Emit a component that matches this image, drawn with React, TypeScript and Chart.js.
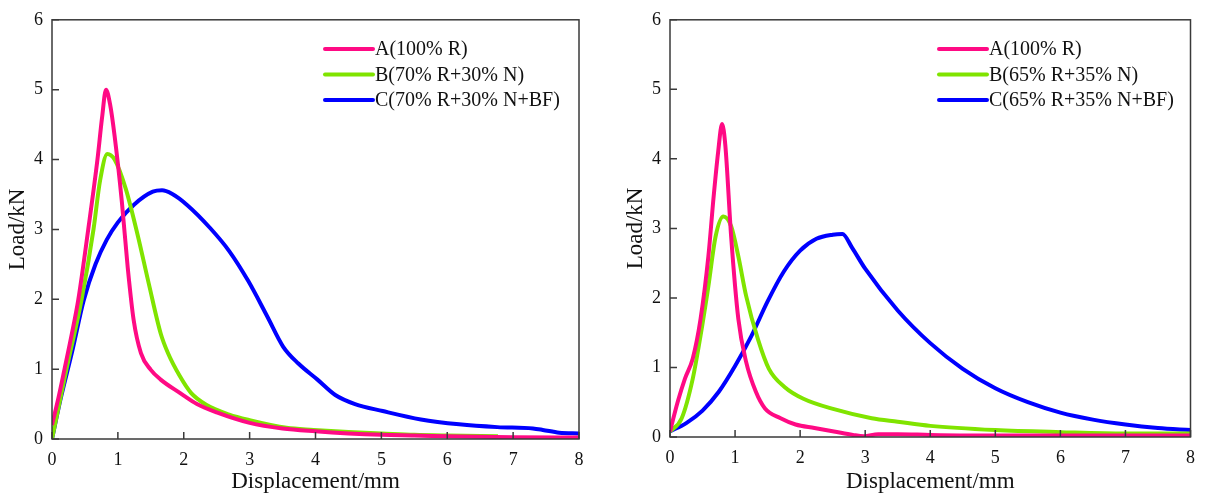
import { useEffect, useRef } from 'react';
import { Chart, registerables } from 'chart.js';

Chart.register(...registerables);

// ---- left panel: 70% R + 30% N ----
const leftAX = [0, 0.1, 0.19, 0.3, 0.4, 0.55, 0.69, 0.76, 0.82, 0.88, 0.95, 1.06, 1.15, 1.24, 1.35, 1.5, 1.65, 1.94, 2.2, 2.5, 3.0, 3.5, 4.0, 4.5, 5.0, 5.5, 6.2, 7.0, 8.0];
const leftAY = [0.2, 0.6, 1.0, 1.5, 2.0, 3.0, 4.0, 4.6, 5.0, 4.8, 4.34, 3.4, 2.45, 1.7, 1.23, 0.99, 0.85, 0.66, 0.5, 0.38, 0.23, 0.15, 0.11, 0.08, 0.06, 0.05, 0.035, 0.025, 0.02];

const leftBX = [0, 0.22, 0.45, 0.63, 0.73, 0.84, 0.95, 1.12, 1.3, 1.47, 1.65, 1.76, 1.94, 2.11, 2.34, 2.69, 3.0, 3.56, 3.97, 4.5, 5.0, 5.5, 6.0, 6.77];
const leftBY = [0, 1.0, 2.0, 3.0, 3.7, 4.08, 4.0, 3.58, 2.92, 2.22, 1.51, 1.23, 0.9, 0.66, 0.49, 0.35, 0.27, 0.16, 0.13, 0.1, 0.08, 0.06, 0.05, 0.04];

const leftCX = [0, 0.13, 0.31, 0.48, 0.66, 0.83, 1.0, 1.24, 1.53, 1.67, 1.82, 2.05, 2.4, 2.69, 2.98, 3.27, 3.51, 3.74, 4.03, 4.3, 4.6, 5.02, 5.6, 6.18, 6.76, 7.3, 7.45, 7.7, 8.0];
const leftCY = [0, 0.57, 1.27, 1.98, 2.5, 2.85, 3.1, 3.35, 3.54, 3.56, 3.51, 3.35, 3.02, 2.69, 2.26, 1.75, 1.32, 1.08, 0.85, 0.63, 0.5, 0.4, 0.28, 0.21, 0.17, 0.15, 0.13, 0.09, 0.08];

const leftLabels = ['A(100% R)', 'B(70% R+30% N)', 'C(70% R+30% N+BF)'];

// ---- right panel: 65% R + 35% N ----
const rightAX = [0, 0.12, 0.23, 0.35, 0.47, 0.59, 0.67, 0.74, 0.8, 0.85, 0.94, 1.05, 1.17, 1.32, 1.46, 1.7, 1.93, 2.22, 2.52, 2.81, 2.98, 3.2, 3.5, 4.0, 5.0, 6.0, 7.0, 8.0];
const rightAY = [0.08, 0.51, 0.84, 1.13, 1.7, 2.6, 3.45, 4.1, 4.5, 4.2, 2.88, 1.7, 1.08, 0.65, 0.41, 0.27, 0.18, 0.13, 0.08, 0.03, 0.01, 0.04, 0.04, 0.03, 0.02, 0.02, 0.02, 0.02];

const rightBX = [0, 0.18, 0.35, 0.47, 0.59, 0.7, 0.82, 0.94, 1.05, 1.17, 1.35, 1.52, 1.76, 2.05, 2.52, 3.1, 3.5, 4.0, 5.0, 6.0, 7.0, 8.0];
const rightBY = [0.08, 0.27, 0.84, 1.46, 2.17, 2.88, 3.17, 3.03, 2.6, 2.03, 1.41, 0.98, 0.72, 0.55, 0.4, 0.27, 0.22, 0.16, 0.1, 0.07, 0.05, 0.05];

const rightCX = [0, 0.25, 0.5, 0.75, 1.0, 1.25, 1.5, 1.75, 2.0, 2.25, 2.5, 2.65, 2.8, 3.0, 3.5, 4.0, 4.5, 5.0, 5.5, 6.0, 6.5, 7.0, 7.5, 8.0];
const rightCY = [0.08, 0.2, 0.38, 0.65, 1.02, 1.45, 1.95, 2.38, 2.68, 2.85, 2.91, 2.92, 2.72, 2.42, 1.82, 1.35, 0.98, 0.7, 0.5, 0.35, 0.25, 0.18, 0.13, 0.1];

const rightLabels = ['A(100% R)', 'B(65% R+35% N)', 'C(65% R+35% N+BF)'];

const colors = ['#FF0A84', '#80E400', '#0000FF'];
const xTicks = [0, 1, 2, 3, 4, 5, 6, 7, 8];
const serif = "'Liberation Serif', 'Times New Roman', serif";
const ink = '#111';

const pts = (xs: number[], ys: number[]) => xs.map((x, i) => ({ x, y: ys[i] }));

// frame + inward ticks + legend inside the plot
const framePlugin = {
  id: 'frame',
  afterDatasetsDraw(chart: any, _args: any, opts: any) {
    const { ctx, chartArea: a, scales } = chart;
    ctx.save();
    ctx.strokeStyle = '#3a3a3a';
    ctx.lineWidth = 1.5;
    ctx.strokeRect(a.left, a.top, a.right - a.left, a.bottom - a.top);
    ctx.beginPath();
    scales.x.ticks.forEach((t: any) => {
      const px = scales.x.getPixelForValue(t.value);
      ctx.moveTo(px, a.bottom);
      ctx.lineTo(px, a.bottom - 7);
    });
    scales.y.ticks.forEach((t: any) => {
      const py = scales.y.getPixelForValue(t.value);
      ctx.moveTo(a.left, py);
      ctx.lineTo(a.left + 7, py);
    });
    ctx.stroke();

    ctx.font = `20px ${serif}`;
    ctx.textBaseline = 'middle';
    ctx.fillStyle = ink;
    chart.data.datasets.forEach((ds: any, i: number) => {
      const y = opts.legendTop + i * 25.5;
      ctx.strokeStyle = ds.borderColor;
      ctx.lineWidth = 4;
      ctx.lineCap = 'round';
      ctx.beginPath();
      ctx.moveTo(opts.legendX, y);
      ctx.lineTo(opts.legendX + 48, y);
      ctx.stroke();
      ctx.fillText(ds.label, opts.legendX + 50, y + 1);
    });
    ctx.restore();
  },
};

type PanelProps = {
  series: { x: number; y: number }[][];
  labels: string[];
  plot: { left: number; top: number; right: number; bottom: number };
  titlePad: number;
  legendX: number;
};

function LoadChart({ series, labels, plot, titlePad, legendX }: PanelProps) {
  const canvasRef = useRef<HTMLCanvasElement>(null);
  const chartRef = useRef<Chart | null>(null);

  useEffect(() => {
    if (!canvasRef.current) return;
    if (chartRef.current) chartRef.current.destroy();

    chartRef.current = new Chart(canvasRef.current, {
      type: 'line',
      data: {
        datasets: series.map((data, i) => ({
          label: labels[i],
          data,
          borderColor: colors[i],
          borderWidth: 4,
          pointRadius: 0,
          fill: false,
          cubicInterpolationMode: 'monotone' as const,
        })),
      },
      options: {
        responsive: false,
        animation: false,
        layout: { padding: { left: 0, top: plot.top, right: 600 - plot.right, bottom: 0 } },
        scales: {
          x: {
            type: 'linear',
            min: 0,
            max: 8,
            afterBuildTicks: (s: any) => {
              s.ticks = xTicks.map((v) => ({ value: v }));
            },
            afterFit: (s: any) => {
              s.height = 500 - plot.bottom;
            },
            grid: { display: false, drawTicks: false },
            border: { display: false },
            ticks: { padding: 10, color: ink, font: { family: serif, size: 18 } },
            title: {
              display: true,
              text: 'Displacement/mm',
              color: ink,
              font: { family: serif, size: 23 },
              padding: { top: 4, bottom: 4 },
            },
          },
          y: {
            min: 0,
            max: 6,
            ticks: { stepSize: 1, padding: 9, color: ink, font: { family: serif, size: 18 } },
            afterFit: (s: any) => {
              s.width = plot.left;
            },
            grid: { display: false, drawTicks: false },
            border: { display: false },
            title: {
              display: true,
              text: 'Load/kN',
              color: ink,
              font: { family: serif, size: 23 },
              padding: { top: titlePad, bottom: 0 },
            },
          },
        },
        plugins: {
          legend: { display: false },
          tooltip: { enabled: false },
          frame: { legendX, legendTop: 49 },
        } as any,
      },
      plugins: [framePlugin],
    });

    return () => {
      if (chartRef.current) {
        chartRef.current.destroy();
        chartRef.current = null;
      }
    };
  }, [series, labels, plot, titlePad, legendX]);

  return <canvas ref={canvasRef} width={600} height={500} style={{ width: '600px', height: '500px', display: 'block' }} />;
}

const leftSeries = [pts(leftAX, leftAY), pts(leftBX, leftBY), pts(leftCX, leftCY)];
const rightSeries = [pts(rightAX, rightAY), pts(rightBX, rightBY), pts(rightCX, rightCY)];
const leftPlot = { left: 52, top: 16, right: 579, bottom: 439 };
const rightPlot = { left: 65, top: 15, right: 590, bottom: 437 };

export default function App() {
  return (
    <div style={{ position: 'absolute', left: 0, top: 0, width: 1205, height: 500, background: '#fff' }}>
      <div style={{ position: 'absolute', left: 0, top: 0 }}>
        <LoadChart series={leftSeries} labels={leftLabels} plot={leftPlot} titlePad={4} legendX={325} />
      </div>
      <div style={{ position: 'absolute', left: 605, top: 0 }}>
        <LoadChart series={rightSeries} labels={rightLabels} plot={rightPlot} titlePad={17} legendX={334} />
      </div>
    </div>
  );
}
